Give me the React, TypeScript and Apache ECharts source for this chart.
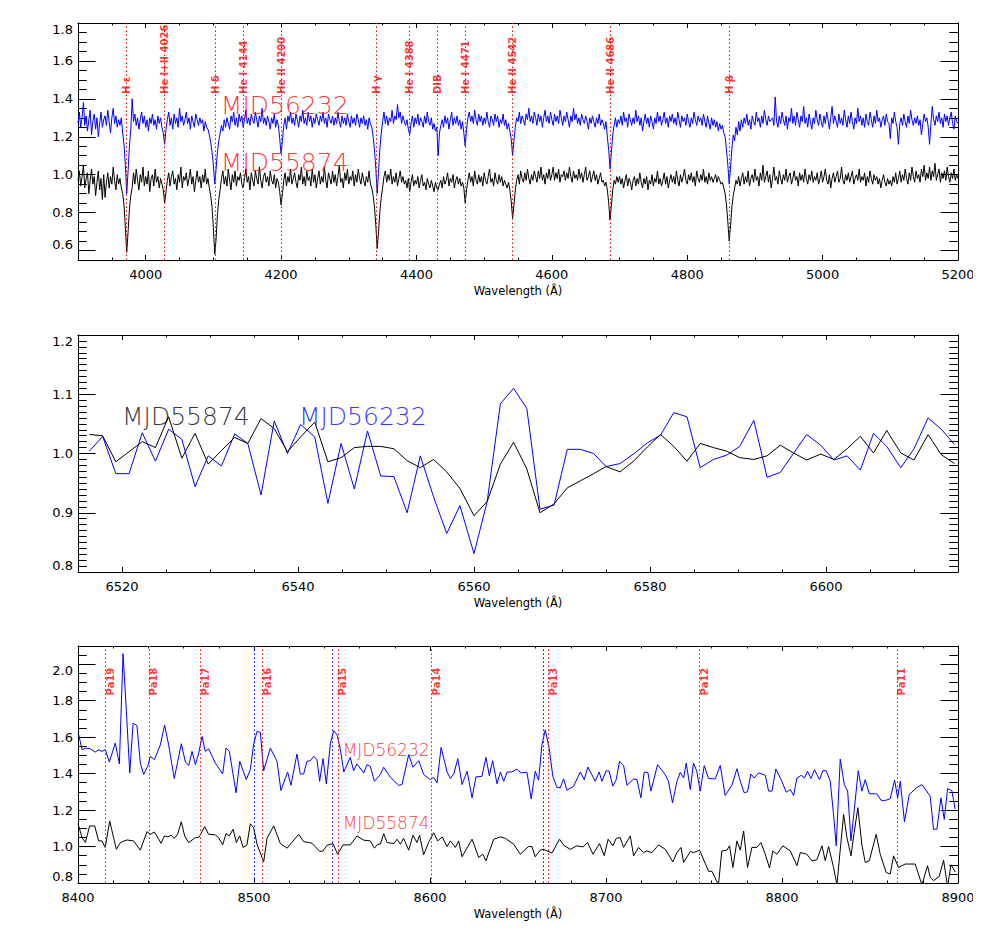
import React, { useEffect, useRef } from "react";
import * as echarts from "echarts";

// ---------- Top panel (3900-5200 Å), sampled every 2 Å ----------
const TOP_START = 3900;
const TOP_STEP = 2;
const topBlack = [
  0.97, 1.02, 0.94, 0.99, 1.05, 0.93, 0.98, 1.01, 0.9, 0.97,
  1.03, 0.95, 0.99, 0.89, 0.96, 1.02, 0.92, 0.98, 0.87, 1.0,
  0.88, 0.96, 1.01, 0.93, 0.99, 0.95, 1.04, 0.97, 0.92, 1.0,
  0.95, 0.98, 0.93, 0.9, 0.84, 0.72, 0.59, 0.7, 0.82, 0.89,
  0.93, 1.01, 0.95, 1.03, 0.97, 0.92, 1.0, 0.96, 1.04, 0.94,
  0.99, 0.95, 1.02, 0.91, 0.98, 1.0, 0.94, 1.03, 0.96, 0.99,
  0.93, 0.98, 0.95, 0.92, 0.85, 0.91, 0.97, 1.01, 0.94, 0.99,
  1.02, 0.95, 0.98, 0.92, 1.0, 0.96, 1.04, 0.93, 0.99, 0.97,
  1.01, 0.94, 0.98, 1.03, 0.95, 0.99, 0.91, 0.97, 1.02, 0.96,
  0.99, 0.93, 1.0, 0.96, 1.03, 0.95, 0.98, 0.93, 0.89, 0.83,
  0.72, 0.58, 0.66, 0.79, 0.87, 0.92, 0.98, 1.02, 0.95, 0.99,
  0.94, 1.03, 0.97, 0.92, 1.0, 0.96, 1.02, 0.94, 0.99, 0.97,
  1.01, 0.95, 0.93, 0.98, 1.03, 0.96, 0.99, 0.92, 1.01, 0.97,
  0.94, 1.02, 0.98, 0.95, 1.04, 0.97, 0.93, 0.99, 1.01, 0.96,
  0.99, 0.94, 1.02, 0.97, 0.95, 1.0, 0.93, 0.98, 0.96, 0.91,
  0.84, 0.9, 0.97, 1.01, 0.94, 0.99, 0.96, 1.03, 0.95, 0.98,
  1.01, 0.96, 0.93, 1.0, 0.97, 1.04, 0.95, 0.99, 0.94, 1.02,
  0.97, 0.99, 0.94, 1.03, 0.96, 1.0, 0.93, 0.98, 1.02, 0.95,
  0.99, 0.96, 1.04, 0.97, 0.93, 1.01, 0.98, 0.95, 1.02, 0.96,
  1.0, 0.94, 0.99, 1.05, 0.96, 0.98, 0.93, 1.01, 0.97, 1.03,
  0.95, 0.99, 0.97, 1.02, 0.94, 1.0, 0.96, 1.03, 0.98, 0.95,
  1.01, 0.97, 0.94, 0.99, 0.96, 1.02, 0.95, 0.93, 0.89, 0.83,
  0.73, 0.61, 0.7, 0.81, 0.88, 0.93, 0.99, 1.02, 0.96, 1.0,
  0.97, 1.03, 0.95, 0.99, 0.96, 1.01, 0.94, 0.98, 1.02, 0.96,
  0.99, 0.95, 0.97, 0.93, 0.98, 0.91, 0.96, 1.0, 0.94, 0.97,
  0.95, 0.99, 0.93, 0.97, 1.0, 0.94, 0.96, 0.92, 0.98, 0.95,
  0.93, 0.97, 0.94, 0.91, 0.96, 0.93, 0.92, 0.95, 0.97, 0.93,
  0.99, 0.95, 0.97, 1.01, 0.94, 0.98, 0.96, 1.0, 0.93, 0.97,
  0.99, 0.95, 0.98, 0.94, 0.96, 0.93, 0.85, 0.92, 0.97, 1.01,
  0.96, 0.99, 0.94, 1.02, 0.97, 0.95, 1.0, 0.96, 0.99, 0.94,
  1.01, 0.97, 0.95, 0.99, 1.03, 0.96, 0.98, 0.94, 1.01, 0.97,
  0.95, 1.0, 0.96, 0.99, 0.94, 0.97, 0.95, 0.93, 0.96, 0.92,
  0.86, 0.77, 0.84, 0.92, 0.97, 1.0, 0.95, 1.02, 0.98, 0.96,
  1.01, 0.97, 1.03, 0.98, 0.95, 1.0, 0.97, 1.02, 0.99, 0.96,
  1.02, 0.98, 1.04, 0.97, 1.0, 0.95, 1.01, 0.98, 1.03, 0.97,
  1.0, 1.04, 0.97, 1.01, 0.98, 1.03, 0.96, 1.0, 0.99, 1.02,
  0.97, 1.01, 0.98, 1.04, 0.99, 0.96, 1.02, 0.98, 1.0, 0.97,
  1.03, 0.98, 1.01, 0.96, 1.0, 1.04, 0.97, 0.99, 1.02, 0.96,
  0.99, 1.02, 0.97, 1.0, 0.95, 0.98, 1.01, 0.96, 0.97, 0.94,
  0.96, 0.92, 0.85, 0.76, 0.84, 0.92, 0.97, 0.95, 0.99, 0.96,
  0.99, 0.95, 0.98, 0.93, 0.97, 1.0, 0.94, 0.98, 0.96, 0.92,
  0.97, 0.99, 0.94, 0.98, 0.95, 1.01, 0.96, 0.93, 0.98, 0.95,
  0.99, 0.92, 0.97, 0.95, 1.0, 0.94, 0.98, 0.96, 1.02, 0.95,
  0.98, 0.94, 0.97, 1.01, 0.95, 0.99, 0.93, 0.97, 1.0, 0.96,
  0.99, 0.95, 1.02, 0.97, 0.94, 1.0, 0.96, 0.99, 1.03, 0.97,
  0.95, 1.0, 0.97, 1.01, 0.96, 0.99, 0.94, 1.02, 0.98, 0.96,
  1.0, 0.97, 1.03, 0.96, 0.99, 0.95, 1.01, 0.97, 0.99, 0.96,
  0.98, 1.0, 0.96, 0.99, 0.97, 0.95, 0.96, 0.93, 0.9, 0.84,
  0.75, 0.65, 0.73, 0.83, 0.89, 0.93, 0.97, 0.95, 0.99, 0.94,
  0.98, 1.01, 0.95, 0.99, 0.96, 1.02, 0.94, 0.98, 1.0, 0.96,
  1.03, 0.97, 0.99, 0.94, 1.01, 0.97, 1.05, 0.96, 0.99, 1.02,
  0.96, 1.0, 0.93, 0.98, 1.04, 0.97, 0.99, 0.95, 1.02, 0.98,
  0.95, 1.0, 0.97, 1.03, 0.96, 0.99, 1.01, 0.95, 0.98, 1.02,
  0.97, 0.99, 0.94, 1.01, 0.97, 1.0, 0.96, 1.03, 0.98, 0.95,
  1.0, 0.97, 1.02, 0.96, 0.99, 0.97, 1.01, 0.95, 0.98, 1.02,
  0.96, 0.99, 1.03, 0.97, 0.95, 1.0, 0.93, 0.98, 1.01, 0.96,
  0.99, 1.02, 0.96, 0.98, 1.04, 0.97, 0.95, 1.0, 0.97, 1.01,
  0.96, 0.99, 1.02, 0.95, 0.98, 1.0, 0.97, 1.03, 0.96, 0.99,
  0.97, 1.01, 0.94, 0.99, 0.96, 1.02, 0.98, 0.95, 1.0, 0.97,
  0.99, 0.95, 0.98, 0.93, 0.97, 1.0, 0.96, 0.94, 0.98, 0.95,
  0.97, 0.94, 0.99, 0.96, 1.01, 0.95, 0.98, 1.02, 0.96, 1.0,
  0.97, 1.03, 0.98, 0.95, 1.01, 0.97, 1.04, 0.99, 0.96, 1.02,
  0.98, 1.0, 0.96, 1.03, 0.99, 1.05, 0.97, 1.01, 0.98, 1.04,
  0.97, 1.02, 0.99, 1.06, 0.97, 1.0, 1.03, 0.96, 1.01, 0.98,
  1.02, 0.97, 1.04, 0.99, 0.96, 1.01, 0.98, 1.03, 0.97, 1.0,
  0.98,
];
const topBlue = [
  1.27, 1.33, 1.25, 1.3, 1.38, 1.26, 1.31, 1.23, 1.29, 1.34,
  1.21, 1.28, 1.32, 1.24, 1.3, 1.2, 1.27, 1.33, 1.25, 1.29,
  1.31, 1.26, 1.34, 1.28, 1.22, 1.3, 1.35, 1.27, 1.31, 1.25,
  1.29, 1.26, 1.3, 1.22, 1.16, 1.05, 0.9, 1.02, 1.15, 1.24,
  1.4, 1.28, 1.32, 1.26, 1.3, 1.24, 1.29, 1.33, 1.27, 1.31,
  1.25, 1.29, 1.23, 1.3, 1.27, 1.32, 1.26, 1.29, 1.24, 1.31,
  1.27, 1.3, 1.25, 1.22, 1.16, 1.24, 1.29, 1.33, 1.26, 1.3,
  1.24, 1.32, 1.27, 1.3, 1.25, 1.35, 1.28, 1.31, 1.26, 1.29,
  1.33, 1.27, 1.3, 1.24, 1.31, 1.28, 1.25, 1.32, 1.29, 1.26,
  1.3, 1.27, 1.29, 1.23, 1.28, 1.25, 1.24, 1.21, 1.17, 1.12,
  1.05, 0.95, 1.03, 1.12, 1.18, 1.22, 1.26, 1.23, 1.29, 1.25,
  1.3, 1.27, 1.24, 1.31, 1.28, 1.33, 1.26, 1.3, 1.25, 1.32,
  1.28, 1.31, 1.25, 1.29, 1.34, 1.27, 1.3, 1.26, 1.32, 1.29,
  1.27, 1.33, 1.29, 1.25, 1.31, 1.28, 1.35, 1.27, 1.3, 1.26,
  1.31, 1.28, 1.24, 1.3, 1.27, 1.32, 1.25, 1.29, 1.26, 1.19,
  1.11, 1.18, 1.26, 1.3, 1.24, 1.31, 1.28, 1.33, 1.27, 1.3,
  1.26, 1.32, 1.29, 1.25, 1.31, 1.28, 1.34, 1.27, 1.3, 1.26,
  1.33, 1.28, 1.31, 1.25, 1.3, 1.27, 1.32, 1.29, 1.26, 1.31,
  1.28, 1.33, 1.27, 1.3, 1.25, 1.32, 1.29, 1.27, 1.31, 1.26,
  1.3, 1.27, 1.33, 1.28, 1.25, 1.31, 1.27, 1.3, 1.26, 1.32,
  1.28, 1.25, 1.31, 1.27, 1.3, 1.26, 1.32, 1.29, 1.25, 1.3,
  1.27, 1.31, 1.26, 1.29, 1.24, 1.3, 1.27, 1.25, 1.2, 1.13,
  1.03, 0.9, 1.02, 1.14, 1.22, 1.28, 1.33, 1.27, 1.31, 1.26,
  1.3, 1.28, 1.34, 1.27, 1.31, 1.29, 1.37, 1.3, 1.33, 1.27,
  1.31, 1.28, 1.26, 1.29, 1.24, 1.21, 1.27, 1.31, 1.25, 1.3,
  1.27, 1.32, 1.26, 1.3, 1.28, 1.25, 1.31, 1.27, 1.33, 1.28,
  1.26, 1.3, 1.24, 1.27, 1.23, 1.25, 1.1, 1.22, 1.26, 1.29,
  1.25, 1.31, 1.27, 1.3, 1.24, 1.29, 1.33, 1.26, 1.3, 1.27,
  1.31, 1.26, 1.29, 1.24, 1.28, 1.22, 1.15, 1.24, 1.3, 1.33,
  1.28, 1.31, 1.27, 1.34, 1.29, 1.26, 1.32, 1.28, 1.31, 1.26,
  1.3, 1.27, 1.33, 1.28, 1.25, 1.31, 1.29, 1.26, 1.32, 1.28,
  1.31, 1.25, 1.29, 1.27, 1.32, 1.26, 1.29, 1.24, 1.27, 1.23,
  1.19, 1.1, 1.18, 1.25, 1.3, 1.28, 1.33, 1.27, 1.31, 1.29,
  1.26, 1.32, 1.29, 1.35, 1.28, 1.31, 1.27, 1.33, 1.3, 1.26,
  1.32, 1.28, 1.31, 1.25, 1.3, 1.34, 1.28, 1.31, 1.27, 1.33,
  1.29, 1.26, 1.32, 1.28, 1.31, 1.27, 1.34, 1.3, 1.26, 1.31,
  1.28, 1.33, 1.29, 1.25, 1.31, 1.28, 1.35, 1.29, 1.32, 1.27,
  1.3, 1.26, 1.32, 1.29, 1.27, 1.31, 1.28, 1.24, 1.3, 1.27,
  1.31, 1.28, 1.25, 1.3, 1.27, 1.32, 1.26, 1.29, 1.27, 1.24,
  1.28, 1.2, 1.13, 1.03, 1.12, 1.21, 1.26, 1.3, 1.25, 1.29,
  1.27, 1.31, 1.26, 1.33, 1.28, 1.3, 1.25, 1.32, 1.29, 1.26,
  1.3, 1.27, 1.34, 1.28, 1.31, 1.26, 1.3, 1.23, 1.28, 1.32,
  1.27, 1.3, 1.25, 1.31, 1.28, 1.24, 1.3, 1.27, 1.33, 1.28,
  1.31, 1.26, 1.29, 1.33, 1.27, 1.3, 1.25, 1.31, 1.28, 1.32,
  1.27, 1.3, 1.26, 1.33, 1.29, 1.25, 1.31, 1.28, 1.3, 1.26,
  1.32, 1.28, 1.25, 1.3, 1.27, 1.33, 1.29, 1.26, 1.31, 1.28,
  1.3, 1.26, 1.32, 1.28, 1.25, 1.31, 1.27, 1.24, 1.3, 1.26,
  1.29, 1.25, 1.28, 1.23, 1.27, 1.24, 1.26, 1.22, 1.2, 1.13,
  1.05, 0.95, 1.04, 1.14, 1.21, 1.18, 1.25, 1.21, 1.28, 1.23,
  1.29, 1.25, 1.3, 1.27, 1.32, 1.26, 1.29, 1.24, 1.31, 1.28,
  1.26, 1.33, 1.28, 1.3, 1.25, 1.31, 1.27, 1.34, 1.29, 1.26,
  1.31, 1.28, 1.29, 1.3, 1.26, 1.41, 1.28, 1.25, 1.31, 1.27,
  1.33, 1.29, 1.26, 1.31, 1.24, 1.3, 1.28, 1.35, 1.27, 1.31,
  1.26, 1.33, 1.29, 1.25, 1.31, 1.28, 1.36, 1.27, 1.3, 1.25,
  1.32, 1.28, 1.24, 1.3, 1.27, 1.34, 1.29, 1.26, 1.32, 1.28,
  1.25, 1.31, 1.27, 1.33, 1.29, 1.24, 1.3, 1.36, 1.27, 1.31,
  1.28, 1.25, 1.32, 1.27, 1.3, 1.26, 1.34, 1.29, 1.25, 1.31,
  1.27, 1.33, 1.28, 1.24, 1.3, 1.27, 1.35, 1.28, 1.31, 1.26,
  1.3, 1.25, 1.32, 1.28, 1.26, 1.33, 1.29, 1.25, 1.31, 1.27,
  1.34, 1.28, 1.3, 1.25, 1.29, 1.31, 1.26, 1.32, 1.28, 1.27,
  1.19, 1.3, 1.27, 1.33, 1.28, 1.25, 1.16, 1.27, 1.3, 1.26,
  1.32, 1.28, 1.25, 1.31, 1.27, 1.34, 1.29, 1.26, 1.3, 1.27,
  1.31, 1.26, 1.29, 1.21, 1.27, 1.32, 1.28, 1.3, 1.25, 1.16,
  1.27, 1.36, 1.29, 1.26, 1.31, 1.28, 1.33, 1.27, 1.3, 1.25,
  1.32, 1.28, 1.31, 1.26, 1.3, 1.33, 1.27, 1.24, 1.31, 1.28,
  1.27,
];
const topLines = [3971.7, 4027.4, 4102.7, 4144.4, 4200.1, 4341.3, 4389.0, 4431.4, 4472.1, 4542.1, 4686.1, 4861.8];
const topLineLabels = ["H ε", "He I+II 4026", "H δ", "He I 4144", "He II 4200", "H γ", "He I 4388", "DIB", "He I 4471", "He II 4542", "He II 4686", "H β"];
const topXTicks = [4000, 4200, 4400, 4600, 4800, 5000, 5200];
const topYTicks = [0.6, 0.8, 1.0, 1.2, 1.4, 1.6, 1.8];

// ---------- Middle panel (H alpha) ----------
const midWave = [
  6516.3, 6517.8, 6519.3, 6520.8, 6522.3, 6523.8, 6525.3, 6526.8, 6528.3, 6529.8,
  6531.3, 6532.8, 6534.3, 6535.8, 6537.3, 6538.8, 6540.3, 6541.9, 6543.4, 6544.9,
  6546.4, 6547.9, 6549.4, 6550.9, 6552.4, 6553.9, 6555.4, 6556.9, 6558.4, 6560.0,
  6561.5, 6563.0, 6564.5, 6566.0, 6567.5, 6569.1, 6570.6, 6572.1, 6573.6, 6575.0,
  6576.6, 6578.2, 6579.7, 6581.2, 6582.7, 6584.2, 6585.7, 6587.2, 6588.7, 6590.2,
  6591.8, 6593.3, 6594.8, 6596.3, 6597.8, 6599.4, 6600.9, 6602.4, 6603.9, 6605.4,
  6606.9, 6608.5, 6610.0, 6611.6, 6613.1, 6614.6,
];
const midBlack = [
  1.032, 1.03, 0.986, 1.003, 1.02, 1.01, 1.062, 0.992, 1.034, 0.982,
  1.005, 1.027, 1.017, 1.059, 1.042, 1.003, 1.028, 1.053, 0.986, 0.993,
  1.01, 1.012, 1.012, 1.008, 0.988, 0.976, 0.99, 0.969, 0.941, 0.895,
  0.919, 0.982, 1.019, 0.974, 0.9, 0.915, 0.942, 0.954, 0.966, 0.978,
  0.969, 0.988, 1.011, 1.032, 1.012, 0.987, 1.017, 1.01, 1.004, 0.993,
  0.99, 0.996, 1.014, 1.001, 0.989, 0.999, 0.99, 1.008, 1.029, 1.001,
  1.039, 1.001, 0.989, 1.032, 0.998, 0.983,
];
const midBlue = [
  1.004, 1.029, 0.966, 0.966, 1.035, 0.987, 1.041, 1.024, 0.944, 0.996,
  0.979, 1.033, 1.017, 0.93, 1.055, 1.0, 1.049, 1.028, 0.916, 1.017,
  0.94, 1.038, 0.962, 0.961, 0.9, 0.996, 0.927, 0.865, 0.912, 0.831,
  0.919, 1.084, 1.11, 1.076, 0.906, 0.913, 1.007, 1.007, 1.0, 0.978,
  0.983, 1.0, 1.018, 1.031, 1.069, 1.062, 0.976, 0.99, 0.997, 1.012,
  1.056, 0.96, 0.968, 1.0, 1.032, 1.014, 0.989, 0.996, 0.972, 1.034,
  1.012, 0.976, 1.008, 1.06, 1.041, 1.015,
];
const midXTicks = [6520, 6540, 6560, 6580, 6600];
const midYTicks = [0.8, 0.9, 1.0, 1.1, 1.2];

// ---------- Bottom panel (Paschen / Ca II) ----------
const botBlue = [
  [8400.4, 1.613], [8402.3, 1.531], [8404.2, 1.54], [8407.0, 1.536], [8409.8, 1.518], [8411.7, 1.531], [8413.6, 1.522], [8415.5, 1.531],
  [8417.8, 1.464], [8421.2, 1.567], [8423.5, 1.453], [8425.6, 2.058], [8427.5, 1.74], [8429.4, 1.404], [8431.3, 1.676], [8433.5, 1.664],
  [8435.4, 1.458], [8437.3, 1.395], [8439.6, 1.44], [8441.1, 1.495], [8443.4, 1.476], [8446.8, 1.558], [8449.2, 1.667], [8451.5, 1.558],
  [8454.7, 1.373], [8458.7, 1.564], [8461.0, 1.464], [8462.9, 1.445], [8464.8, 1.522], [8466.7, 1.449], [8468.6, 1.513], [8470.5, 1.604],
  [8472.3, 1.522], [8474.2, 1.536], [8478.0, 1.458], [8479.9, 1.431], [8482.2, 1.398], [8484.1, 1.54], [8486.0, 1.522], [8489.8, 1.295],
  [8491.9, 1.467], [8495.6, 1.367], [8497.9, 1.422], [8499.8, 1.562], [8501.7, 1.631], [8503.6, 1.627], [8505.5, 1.416], [8509.3, 1.54],
  [8513.1, 1.467], [8515.3, 1.307], [8519.1, 1.409], [8521.0, 1.336], [8524.4, 1.507], [8526.3, 1.398], [8528.2, 1.398], [8530.1, 1.467],
  [8532.0, 1.471], [8533.9, 1.495], [8535.8, 1.476], [8537.3, 1.358], [8539.2, 1.482], [8541.1, 1.344], [8543.4, 1.567], [8545.3, 1.635],
  [8547.2, 1.613], [8549.1, 1.531], [8551.0, 1.409], [8554.7, 1.489], [8556.6, 1.416], [8558.5, 1.453], [8562.3, 1.404], [8564.2, 1.449],
  [8566.1, 1.44], [8568.4, 1.358], [8571.8, 1.395], [8573.7, 1.435], [8577.5, 1.38], [8582.2, 1.336], [8584.1, 1.34], [8587.9, 1.504],
  [8590.3, 1.435], [8593.6, 1.471], [8596.4, 1.395], [8600.2, 1.367], [8602.1, 1.38], [8604.0, 1.349], [8606.3, 1.544], [8609.7, 1.409],
  [8611.6, 1.373], [8613.5, 1.398], [8615.8, 1.482], [8618.2, 1.34], [8621.1, 1.413], [8623.9, 1.267], [8626.1, 1.382], [8629.5, 1.385],
  [8631.8, 1.489], [8633.7, 1.389], [8635.6, 1.471], [8638.1, 1.344], [8640.0, 1.409], [8641.9, 1.358], [8643.8, 1.409], [8646.5, 1.409],
  [8649.4, 1.425], [8651.6, 1.404], [8655.1, 1.407], [8657.5, 1.262], [8659.8, 1.413], [8661.7, 1.364], [8663.6, 1.558], [8665.5, 1.64],
  [8667.7, 1.54], [8669.8, 1.385], [8672.1, 1.325], [8674.0, 1.322], [8675.9, 1.371], [8677.8, 1.309], [8681.6, 1.331], [8685.4, 1.409],
  [8687.6, 1.367], [8689.7, 1.436], [8693.9, 1.358], [8696.1, 1.409], [8697.7, 1.358], [8700.1, 1.416], [8701.8, 1.413], [8703.9, 1.331],
  [8705.8, 1.367], [8707.7, 1.467], [8710.0, 1.445], [8711.9, 1.336], [8715.7, 1.371], [8717.6, 1.367], [8719.8, 1.267], [8721.7, 1.407],
  [8723.8, 1.407], [8725.5, 1.304], [8729.3, 1.449], [8733.6, 1.395], [8735.5, 1.358], [8737.8, 1.24], [8740.3, 1.358], [8742.2, 1.407],
  [8744.1, 1.376], [8745.6, 1.458], [8747.9, 1.313], [8749.7, 1.458], [8751.6, 1.413], [8753.5, 1.304], [8755.8, 1.444], [8758.3, 1.373],
  [8762.1, 1.371], [8764.9, 1.445], [8767.7, 1.28], [8771.5, 1.336], [8774.4, 1.427], [8776.3, 1.358], [8778.5, 1.295], [8780.4, 1.3],
  [8782.3, 1.398], [8784.2, 1.376], [8786.7, 1.404], [8790.5, 1.391], [8792.4, 1.304], [8794.3, 1.304], [8796.5, 1.425], [8799.9, 1.358],
  [8802.4, 1.298], [8804.7, 1.313], [8806.6, 1.28], [8808.5, 1.376], [8811.0, 1.391], [8812.8, 1.376], [8814.5, 1.413], [8816.4, 1.373],
  [8818.5, 1.422], [8819.8, 1.395], [8821.3, 1.367], [8823.2, 1.416], [8825.1, 1.416], [8827.4, 1.358], [8829.3, 1.176], [8830.8, 1.004],
  [8833.1, 1.48], [8835.4, 1.34], [8837.3, 1.304], [8839.2, 1.031], [8841.0, 1.195], [8843.3, 1.416], [8845.4, 1.304], [8847.3, 1.367],
  [8849.6, 1.289], [8853.9, 1.289], [8856.4, 1.253], [8858.7, 1.253], [8861.5, 1.262], [8864.0, 1.364], [8865.7, 1.267], [8867.2, 1.358],
  [8869.6, 1.136], [8872.3, 1.285], [8876.3, 1.322], [8879.5, 1.34], [8884.2, 1.276], [8886.1, 1.095], [8888.0, 1.095], [8890.3, 1.267],
  [8892.2, 1.149], [8894.1, 1.318], [8896.5, 1.307], [8898.4, 1.204],
];
const botBlack = [
  [8400.0, 1.125], [8402.3, 1.049], [8404.2, 1.022], [8406.6, 1.113], [8409.5, 1.113], [8411.7, 1.031], [8413.6, 1.031], [8415.5, 0.995],
  [8418.0, 1.14], [8421.8, 0.985], [8424.1, 1.022], [8427.8, 1.036], [8431.6, 1.031], [8435.4, 0.98], [8439.2, 1.082], [8441.1, 1.067],
  [8443.4, 1.08], [8447.2, 1.018], [8449.1, 1.058], [8451.0, 1.053], [8452.9, 1.062], [8454.7, 1.045], [8456.6, 1.067], [8458.7, 1.136],
  [8460.6, 1.058], [8462.9, 1.022], [8466.7, 1.049], [8468.6, 1.049], [8472.0, 1.109], [8474.2, 1.067], [8478.0, 1.064], [8479.9, 1.049],
  [8482.2, 1.009], [8484.1, 1.071], [8486.0, 1.058], [8488.1, 1.095], [8490.0, 1.022], [8491.9, 1.058], [8493.8, 0.995], [8496.0, 1.009],
  [8497.9, 1.125], [8499.8, 1.104], [8501.7, 1.013], [8505.5, 0.916], [8507.4, 1.045], [8511.2, 1.113], [8515.0, 1.016], [8518.8, 0.991],
  [8525.4, 1.067], [8528.2, 1.027], [8531.1, 1.022], [8533.0, 1.018], [8537.3, 0.973], [8539.2, 0.976], [8541.5, 1.007], [8544.9, 1.016],
  [8547.5, 0.958], [8550.6, 1.009], [8554.7, 1.009], [8558.5, 1.058], [8562.3, 1.035], [8566.1, 1.031], [8568.4, 0.991], [8570.3, 1.013],
  [8571.8, 1.013], [8573.7, 1.071], [8575.6, 1.022], [8579.4, 1.016], [8581.3, 1.04], [8583.1, 1.013], [8585.0, 1.045], [8587.9, 0.98],
  [8590.3, 1.062], [8592.6, 1.022], [8594.1, 1.062], [8596.4, 0.955], [8599.2, 1.022], [8602.1, 1.076], [8604.4, 1.031], [8606.9, 1.053],
  [8609.7, 1.0], [8611.6, 1.031], [8614.4, 0.995], [8616.3, 1.031], [8618.2, 0.944], [8623.9, 1.04], [8627.7, 0.94], [8630.0, 0.958],
  [8631.8, 0.922], [8636.2, 1.04], [8640.0, 1.053], [8642.8, 1.045], [8647.5, 1.013], [8651.3, 0.958], [8656.0, 1.0], [8657.9, 1.0],
  [8659.8, 0.944], [8662.6, 0.98], [8664.5, 0.985], [8669.3, 0.964], [8673.6, 1.04], [8676.3, 1.004], [8679.7, 0.985], [8683.5, 1.004],
  [8686.9, 0.998], [8689.5, 1.022], [8692.6, 0.958], [8696.3, 1.016], [8699.0, 0.95], [8701.2, 1.04], [8703.9, 1.004], [8705.8, 1.045],
  [8708.1, 1.049], [8710.0, 0.995], [8713.8, 1.058], [8715.7, 0.949], [8718.5, 0.995], [8721.3, 0.967], [8723.2, 0.976], [8726.1, 0.967],
  [8729.9, 1.009], [8733.7, 0.985], [8738.0, 0.916], [8740.3, 0.967], [8742.6, 0.995], [8744.1, 0.913], [8747.9, 0.973], [8749.7, 0.967],
  [8753.2, 0.98], [8758.3, 0.864], [8760.2, 0.864], [8763.9, 0.79], [8765.8, 0.976], [8768.7, 0.98], [8770.2, 1.004], [8772.1, 0.885],
  [8774.4, 1.031], [8776.3, 0.98], [8778.2, 1.085], [8780.4, 0.885], [8782.9, 0.995], [8785.7, 0.995], [8788.0, 1.022], [8790.5, 0.958],
  [8792.9, 0.882], [8794.8, 0.976], [8797.1, 0.958], [8800.5, 1.004], [8804.7, 0.976], [8808.5, 0.895], [8810.4, 0.967], [8814.1, 0.958],
  [8817.0, 0.922], [8819.8, 0.927], [8822.7, 1.004], [8824.6, 0.922], [8826.5, 1.0], [8829.3, 0.885], [8831.2, 0.79], [8835.0, 1.176],
  [8836.9, 1.049], [8839.2, 0.949], [8841.0, 1.076], [8843.1, 1.213], [8845.4, 1.009], [8847.3, 0.913], [8849.6, 0.922], [8853.5, 1.067],
  [8855.8, 0.958], [8859.2, 0.858], [8861.5, 0.849], [8863.4, 0.949], [8866.2, 0.885], [8870.0, 0.904], [8875.7, 0.904], [8879.5, 0.79],
  [8882.7, 0.895], [8884.2, 0.831], [8886.1, 0.813], [8889.3, 0.835], [8891.8, 0.925], [8894.1, 0.78], [8896.0, 0.9], [8898.5, 0.86],
];
const paLines = [8415.6, 8440.3, 8469.6, 8504.8, 8547.7, 8600.8, 8667.4, 8752.9, 8865.2];
const paLabels = ["Pa19", "Pa18", "Pa17", "Pa16", "Pa15", "Pa14", "Pa13", "Pa12", "Pa11"];
const caLines = [8500.4, 8544.4, 8664.5];
const botXTicks = [8400, 8500, 8600, 8700, 8800, 8900];
const botYTicks = [0.8, 1.0, 1.2, 1.4, 1.6, 1.8, 2.0];

const FONT = "DejaVu Sans";
const RED = "#ff0000";

function xAxes(g: number, min: number, max: number, majors: number[], minorStep: number) {
  const line = { show: true, onZero: false, lineStyle: { color: "#000", width: 1 } };
  const noLine = { show: false, onZero: false };
  const tick = (len: number, custom?: number[]) => ({
    show: true, inside: true, length: len, lineStyle: { color: "#000", width: 1 },
    ...(custom ? { customValues: custom } : {}),
  });
  const common = { type: "value", gridIndex: g, min, max, splitLine: { show: false } };
  return [
    {
      ...common, position: "bottom", axisLine: line, axisTick: tick(5, majors),
      axisLabel: { show: true, customValues: majors, margin: 8, color: "#000", fontSize: 13, fontFamily: FONT, formatter: (v: number) => String(v) },
      name: "Wavelength (Å)", nameLocation: "middle", nameGap: 25,
      nameTextStyle: { color: "#000", fontSize: 11.5, fontFamily: FONT },
    },
    { ...common, position: "bottom", interval: minorStep, axisLine: noLine, axisTick: tick(2.5), axisLabel: { show: false } },
    { ...common, position: "top", axisLine: line, axisTick: tick(5, majors), axisLabel: { show: false } },
    { ...common, position: "top", interval: minorStep, axisLine: noLine, axisTick: tick(2.5), axisLabel: { show: false } },
  ];
}

function yAxes(g: number, min: number, max: number, majors: number[], minorStep: number) {
  const line = { show: true, onZero: false, lineStyle: { color: "#000", width: 1 } };
  const noLine = { show: false, onZero: false };
  const tick = (len: number, custom?: number[]) => ({
    show: true, inside: true, length: len, lineStyle: { color: "#000", width: 1 },
    ...(custom ? { customValues: custom } : {}),
  });
  const common = { type: "value", gridIndex: g, min, max, splitLine: { show: false } };
  return [
    {
      ...common, position: "left", axisLine: line, axisTick: tick(17.5, majors),
      axisLabel: {
        show: true, customValues: majors, margin: 5, color: "#000", fontSize: 13, fontFamily: FONT,
        formatter: (v: number) => v.toFixed(1),
        verticalAlignMaxLabel: "top", verticalAlignMinLabel: "bottom",
      },
    },
    { ...common, position: "left", interval: minorStep, axisLine: noLine, axisTick: tick(8.8), axisLabel: { show: false } },
    { ...common, position: "right", axisLine: line, axisTick: tick(17.5, majors), axisLabel: { show: false } },
    { ...common, position: "right", interval: minorStep, axisLine: noLine, axisTick: tick(8.8), axisLabel: { show: false } },
  ];
}

function lineSeries(g: number, data: number[][], color: string, extra: any = {}) {
  return {
    type: "line", xAxisIndex: g * 4, yAxisIndex: g * 4, data, symbol: "none", silent: true,
    lineStyle: { color, width: 1 }, clip: true, ...extra,
  };
}

function markLines(values: number[], color: string) {
  return values.map((v) => ({ xAxis: v, lineStyle: { color, type: [1.5, 2.5], width: 1 } }));
}

function textSeries(g: number, items: { value: number[]; name: string }[], label: any) {
  return {
    type: "scatter", xAxisIndex: g * 4, yAxisIndex: g * 4, silent: true, symbolSize: 1,
    itemStyle: { color: "transparent" }, data: items, z: 10,
    label: { show: true, position: "inside", formatter: "{b}", ...label },
  };
}

export default function App() {
  const ref = useRef<HTMLDivElement>(null);
  useEffect(() => {
    if (!ref.current) return;
    const chart = echarts.init(ref.current, null, { renderer: "svg" });

    const topBlackData = topBlack.map((y, i) => [TOP_START + i * TOP_STEP, y]);
    const topBlueData = topBlue.map((y, i) => [TOP_START + i * TOP_STEP, y]);
    const midBlackData = midBlack.map((y, i) => [midWave[i], y]);
    const midBlueData = midBlue.map((y, i) => [midWave[i], y]);

    const bigLabel = (color: string, size: number) => ({
      align: "left", verticalAlign: "middle", color, fontSize: size, fontFamily: FONT, fontWeight: 200,
    });
    const lineLabel = (va: string) => ({
      rotate: 90, align: "left", verticalAlign: va, color: RED, fontSize: 10, fontWeight: "bold", fontFamily: FONT,
    });

    const option: any = {
      animation: false,
      backgroundColor: "#fff",
      grid: [
        { left: 70, top: 15, width: 880, height: 237, outerBoundsMode: "none", containLabel: false },
        { left: 70, top: 327, width: 880, height: 237, outerBoundsMode: "none", containLabel: false },
        { left: 70, top: 638, width: 880, height: 237, outerBoundsMode: "none", containLabel: false },
      ],
      xAxis: [
        ...xAxes(0, 3900, 5200, topXTicks, 50),
        ...xAxes(1, 6515, 6615, midXTicks, 5),
        ...xAxes(2, 8400, 8900, botXTicks, 20),
      ],
      yAxis: [
        ...yAxes(0, 0.55, 1.8, topYTicks, 0.05),
        ...yAxes(1, 0.8, 1.2, midYTicks, 0.01),
        ...yAxes(2, 0.8, 2.1, botYTicks, 0.05),
      ],
      series: [
        // top panel
        lineSeries(0, topBlackData, "#000", {
          markLine: { silent: true, symbol: ["none", "none"], label: { show: false }, data: markLines(topLines, RED) },
        }),
        lineSeries(0, topBlueData, "#0000ff"),
        textSeries(0, topLines.map((x, i) => ({ value: [x, 1.425], name: topLineLabels[i] })), lineLabel("middle")),
        textSeries(0, [
          { value: [4111, 1.365], name: "MJD56232" },
          { value: [4111, 1.065], name: "MJD55874" },
        ], bigLabel(RED, 25)),
        // middle panel
        lineSeries(1, midBlueData, "#0000ff"),
        lineSeries(1, midBlackData, "#000"),
        textSeries(1, [{ value: [6520, 1.063], name: "MJD55874" }], bigLabel("#000", 25)),
        textSeries(1, [{ value: [6540.1, 1.063], name: "MJD56232" }], bigLabel("#0000ff", 25)),
        // bottom panel
        lineSeries(2, botBlack, "#000", {
          markLine: {
            silent: true, symbol: ["none", "none"], label: { show: false },
            data: [...markLines(paLines, RED), ...markLines(caLines, "#0000ff")],
          },
        }),
        lineSeries(2, botBlue, "#0000ff"),
        textSeries(2, paLines.map((x, i) => ({ value: [x, 1.829], name: paLabels[i] })), lineLabel("top")),
        textSeries(2, [
          { value: [8550.4, 1.531], name: "MJD56232" },
          { value: [8550.4, 1.131], name: "MJD55874" },
        ], bigLabel(RED, 17)),
      ],
    };
    chart.setOption(option);
    return () => chart.dispose();
  }, []);
  return <div ref={ref} style={{ width: 973, height: 917 }} />;
}
